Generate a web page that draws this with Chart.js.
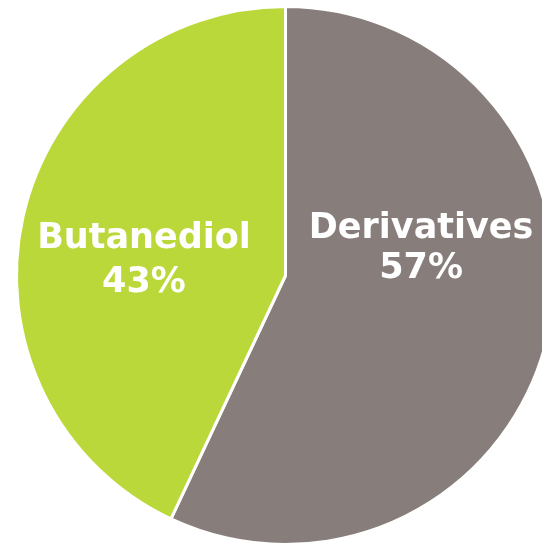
<!DOCTYPE html>
<html>
<head>
<meta charset="utf-8">
<script src="https://cdn.jsdelivr.net/npm/chart.js@4"></script>
<style>
  html, body { margin: 0; padding: 0; background: #fff; }
  #wrap { position: relative; width: 542px; height: 543px; overflow: hidden; }
  #wrap canvas { position: absolute; left: 0; top: 0; }
</style>
</head>
<body>
<div id="wrap"><canvas id="pie" width="600" height="600"></canvas></div>
<script>
var labels = ['Derivatives', 'Butanediol'];
var shares = [57, 43];
var colors = ['#877e7b', '#bbd83b'];

// label anchor, as a fraction of the radius from the centre
var labelSpots = [
    { dx: 0.504, dy: -0.138, gap: 40 },
    { dx: -0.526, dy: -0.101, gap: 44 }
];

var sliceLabels = {
    id: 'sliceLabels',
    afterDatasetsDraw: function(chart) {
        var ctx = chart.ctx;
        var meta = chart.getDatasetMeta(0);
        ctx.save();
        ctx.fillStyle = '#ffffff';
        ctx.textAlign = 'center';
        ctx.textBaseline = 'alphabetic';
        ctx.font = 'bold 35px "DejaVu Sans"';
        meta.data.forEach(function(arc, i) {
            var r = arc.outerRadius;
            var x = arc.x + labelSpots[i].dx * r;
            var y = arc.y + labelSpots[i].dy * r;
            ctx.fillText(labels[i], x, y);
            ctx.fillText(shares[i] + '%', x, y + labelSpots[i].gap);
        });
        ctx.restore();
    }
};

var ctx = document.getElementById('pie');
var pieChart = new Chart(ctx, {
    type: 'pie',
    data: {
        labels: labels,
        datasets: [{
            data: shares,
            backgroundColor: colors,
            borderColor: '#ffffff',
            borderWidth: 3
        }]
    },
    options: {
        responsive: false,
        animation: false,
        layout: { padding: { left: 15, top: 5, right: 44, bottom: 54 } },
        plugins: {
            legend: { display: false },
            tooltip: { enabled: false }
        }
    },
    plugins: [sliceLabels]
});
</script>
</body>
</html>
